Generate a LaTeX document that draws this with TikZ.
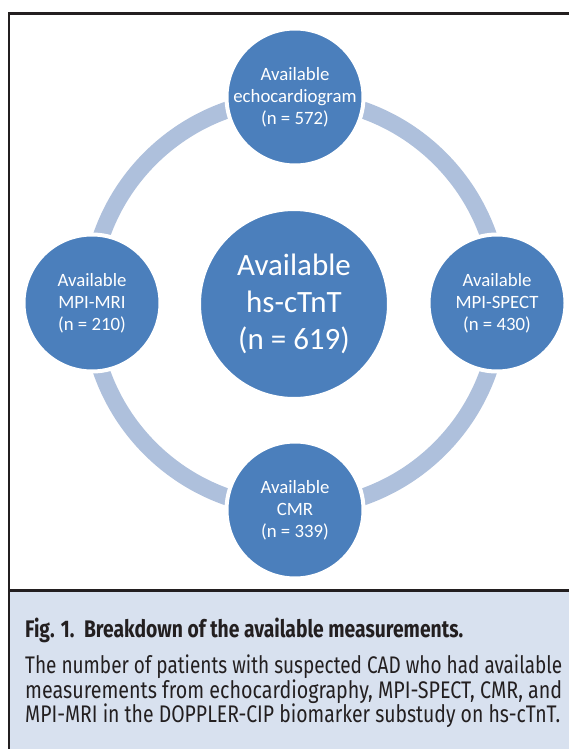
\documentclass[tikz,border=0pt]{standalone}
\usepackage{fontspec}
\setmainfont{Carlito}
\newfontfamily\capfont{Fira Sans}
\usepackage{graphicx}
\definecolor{nodeblue}{HTML}{4B7FBC}
\definecolor{ringblue}{HTML}{AEC0DC}
\definecolor{capbg}{HTML}{D8E1EF}
\definecolor{framecol}{HTML}{231F20}
\begin{document}
\begin{tikzpicture}[x=1pt,y=-1pt,
  sat/.style={circle,fill=nodeblue,draw=white,line width=4pt,minimum size=137pt,inner sep=0pt,
    text=white,align=center,font=\fontsize{18.8}{22}\selectfont},
  hub/.style={circle,fill=nodeblue,draw=white,line width=4pt,minimum size=190pt,inner sep=0pt,
    text=white,align=center,font=\fontsize{31}{37}\selectfont},
  capline/.style={anchor=base west,inner sep=0pt,text=framecol,font=\capfont\fontsize{24}{26}\selectfont},
  ring/.style={draw=ringblue,line width=17pt}]
\useasboundingbox (0,0) rectangle (569,749);
\fill[capbg] (10,591) rectangle (569,749);
\draw[framecol,line width=2.7pt] (9,749) -- (9,13.3) -- (569,13.3);
\draw[framecol,line width=2.5pt] (9,590.5) -- (569,590.5);
\coordinate (ringc) at (295,303.5);
\draw[ring] (ringc) circle[radius=205pt];
\node[hub] (hub) at (294,304) {Available\\hs-cTnT\\(n = 619)};
\node[sat] (echo) at (295,97) {Available\\echocardiogram\\(n = 572)};
\node[sat] (spect) at (497,303) {Available\\MPI-SPECT\\(n = 430)};
\node[sat] (cmr) at (295,510) {Available\\CMR\\(n = 339)};
\node[sat] (mri) at (92,303) {Available\\MPI-MRI\\(n = 210)};
\node[capline,font=\capfont\bfseries\fontsize{24}{26}\selectfont] (cap1) at (25,637)
  {\resizebox{438pt}{\height}{Fig. 1.\hspace{0.5em}Breakdown of the available measurements.}};
\node[capline] (cap2) at (25,673)
  {\resizebox{537pt}{\height}{The number of patients with suspected CAD who had available}};
\node[capline] (cap3) at (25,698)
  {\resizebox{537pt}{\height}{measurements from echocardiography, MPI-SPECT, CMR, and}};
\node[capline] (cap4) at (25,722)
  {\resizebox{535pt}{\height}{MPI-MRI in the DOPPLER-CIP biomarker substudy on hs-cTnT.}};
\end{tikzpicture}
\end{document}
